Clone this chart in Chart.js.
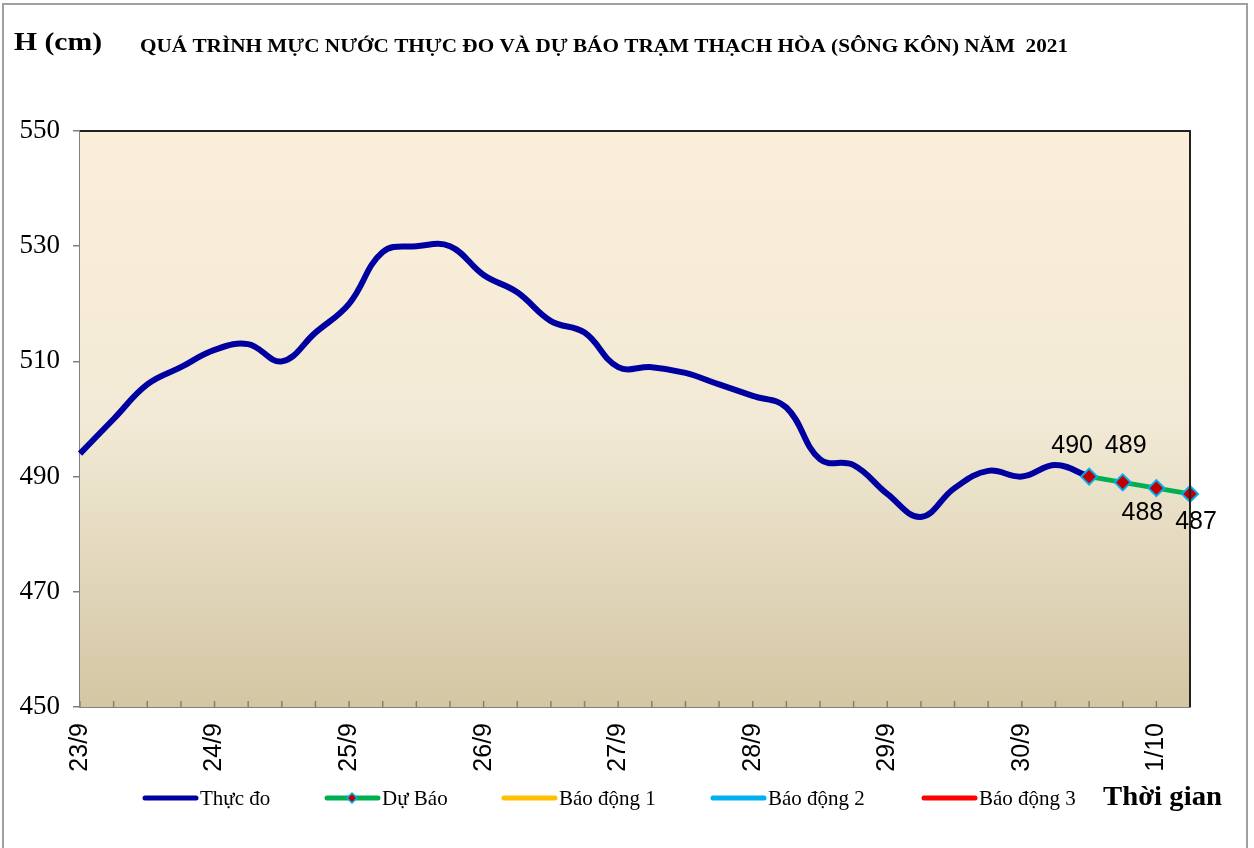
<!DOCTYPE html>
<html>
<head>
<meta charset="utf-8">
<script src="https://cdn.jsdelivr.net/npm/chart.js@4/dist/chart.umd.min.js"></script>
<style>
	html, body { margin: 0; padding: 0; background: #fff; }
	#wrap { width: 1254px; height: 848px; }
</style>
</head>
<body>
<div id="wrap"><canvas id="chart" width="1254" height="848"></canvas></div>
<script>
// days on the axis, 4 readings (6 h) per day, last day only 2
const days = ['23/9', '24/9', '25/9', '26/9', '27/9', '28/9', '29/9', '30/9', '1/10']
const slotsPerDay = [4, 4, 4, 4, 4, 4, 4, 4, 2]

// observed water level (cm)
const thucDo = [
	494, 500, 506, 509, 512, 513, 510, 515, 520, 529, 530, 530, 525, 522, 517, 515,
	509, 509, 508, 506, 504, 502, 493, 492, 487, 483, 488, 491, 490, 492, 490,
]
// forecast starts at the last observed slot
const duBaoStart = 30
const duBao = [490, 489, 488, 487]

const yTicks = { min: 450, max: 550, step: 20 }

const xLabels = []
days.forEach((d, i) => {
	for (let k = 0; k < slotsPerDay[i]; k++) xLabels.push(k === 0 ? d : '')
})
const duBaoData = xLabels.map((_, i) =>
	i >= duBaoStart && i < duBaoStart + duBao.length ? duBao[i - duBaoStart] : null
)

const SERIF = "'Liberation Serif', 'Times New Roman', serif"
const SANS = "'Liberation Sans', Arial, sans-serif"

// background, frame, titles, inner ticks
const decor = {
	id: 'decor',
	beforeDatasetsDraw(chart) {
		const { ctx, chartArea: a } = chart
		ctx.save()
		const g = ctx.createLinearGradient(0, a.top, 0, a.bottom)
		g.addColorStop(0, '#FCEFDA')
		g.addColorStop(0.5, '#F2EAD6')
		g.addColorStop(1, '#D3C6A3')
		ctx.fillStyle = g
		ctx.fillRect(a.left, a.top, a.right - a.left, a.bottom - a.top)
		// x tick marks pointing inward
		const x = chart.scales.x
		ctx.strokeStyle = '#808080'
		ctx.lineWidth = 1.5
		xLabels.forEach((_, i) => {
			const px = x.getPixelForValue(i)
			ctx.beginPath()
			ctx.moveTo(px, a.bottom)
			ctx.lineTo(px, a.bottom - 6)
			ctx.stroke()
		})
		ctx.restore()
	},
	afterDraw(chart) {
		const { ctx, chartArea: a } = chart
		ctx.save()
		// plot border top/right
		ctx.strokeStyle = '#222'
		ctx.lineWidth = 2
		ctx.beginPath()
		ctx.moveTo(a.left, a.top)
		ctx.lineTo(a.right, a.top)
		ctx.lineTo(a.right, a.bottom)
		ctx.stroke()
		// outer frame
		ctx.strokeStyle = '#A0A0A0'
		ctx.lineWidth = 2
		ctx.strokeRect(3, 4, 1244, 860)

		ctx.fillStyle = '#000'
		ctx.textBaseline = 'alphabetic'
		fitText(ctx, 'H (cm)', 'bold 25px ' + SERIF, 14, 50, 88)
		fitText(ctx, 'QUÁ TRÌNH MỰC NƯỚC THỰC ĐO VÀ DỰ BÁO TRẠM THẠCH HÒA (SÔNG KÔN) NĂM  2021',
			'bold 18px ' + SERIF, 140, 52, 928)
		fitText(ctx, 'Thời gian', 'bold 27px ' + SERIF, 1103, 805, 119)

		// legend
		const legX = [143, 325, 502, 711, 922]
		const ly = 798
		ctx.font = '21px ' + SERIF
		chart.data.datasets.forEach((ds, i) => {
			const x0 = legX[i]
			ctx.strokeStyle = ds.borderColor
			ctx.lineWidth = 5
			ctx.lineCap = 'round'
			ctx.beginPath()
			ctx.moveTo(x0 + 2, ly)
			ctx.lineTo(x0 + 53, ly)
			ctx.stroke()
			if (ds.pointRadius > 0) {
				const cx = x0 + 27
				ctx.beginPath()
				ctx.moveTo(cx, ly - 5)
				ctx.lineTo(cx + 5, ly)
				ctx.lineTo(cx, ly + 5)
				ctx.lineTo(cx - 5, ly)
				ctx.closePath()
				ctx.fillStyle = ds.pointBackgroundColor
				ctx.fill()
				ctx.strokeStyle = ds.pointBorderColor
				ctx.lineWidth = 1.5
				ctx.stroke()
			}
			ctx.fillStyle = '#000'
			ctx.fillText(ds.label, x0 + 57, ly + 7)
		})
		ctx.restore()
	},
	afterDatasetsDraw(chart) {
		// value labels on forecast points
		const { ctx } = chart
		const idx = chart.data.datasets.findIndex((d) => d.label === 'Dự Báo')
		const meta = chart.getDatasetMeta(idx)
		const off = [[-17, -30], [3, -36], [-14, 25], [6, 28]]
		ctx.save()
		ctx.font = '25px ' + SANS
		ctx.fillStyle = '#000'
		ctx.textAlign = 'center'
		ctx.textBaseline = 'middle'
		let n = 0
		meta.data.forEach((p, i) => {
			const v = chart.data.datasets[idx].data[i]
			if (v == null) return
			const o = off[n++] || [0, -30]
			ctx.fillText(String(v), p.x + o[0], p.y + o[1])
		})
		ctx.restore()
	},
}

function fitText(ctx, text, font, x, y, width) {
	ctx.font = font
	const w = ctx.measureText(text).width
	ctx.save()
	ctx.translate(x, y)
	ctx.scale(width / w, 1)
	ctx.fillText(text, 0, 0)
	ctx.restore()
}

new Chart(document.getElementById('chart'), {
	type: 'line',
	data: {
		labels: xLabels,
		datasets: [
			{
				label: 'Thực đo',
				data: thucDo,
				borderColor: '#0000A0',
				borderWidth: 6,
				pointRadius: 0,
				tension: 0.4,
				order: 2,
			},
			{
				label: 'Dự Báo',
				data: duBaoData,
				borderColor: '#00B050',
				borderWidth: 5,
				pointStyle: 'rectRot',
				pointRadius: 8,
				pointBackgroundColor: '#C00000',
				pointBorderColor: '#00B0F0',
				pointBorderWidth: 2,
				tension: 0,
				order: 1,
			},
			{ label: 'Báo động 1', data: [], borderColor: '#FFC000', pointRadius: 0, order: 3 },
			{ label: 'Báo động 2', data: [], borderColor: '#00B0F0', pointRadius: 0, order: 3 },
			{ label: 'Báo động 3', data: [], borderColor: '#FF0000', pointRadius: 0, order: 3 },
		],
	},
	options: {
		responsive: false,
		animation: false,
		devicePixelRatio: 1,
		layout: { padding: { left: 10, top: 131, right: 64, bottom: 41 } },
		plugins: {
			legend: { display: false },
			title: { display: false },
			tooltip: { enabled: false },
		},
		scales: {
			x: {
				type: 'category',
				offset: false,
				afterFit: (s) => { s.height = 100 },
				grid: { display: true, drawOnChartArea: false, drawTicks: false, offset: false },
				border: { display: true, color: '#808080', width: 2 },
				ticks: {
					autoSkip: false,
					maxRotation: 90,
					minRotation: 90,
					padding: 16,
					color: '#000',
					font: { family: SANS, size: 25 },
				},
			},
			y: {
				min: yTicks.min,
				max: yTicks.max,
				afterFit: (s) => { s.width = 70 },
				grid: { display: true, drawOnChartArea: false, drawTicks: true, tickLength: 7, color: '#808080', lineWidth: 1.5 },
				border: { display: true, color: '#808080', width: 2 },
				ticks: {
					stepSize: yTicks.step,
					padding: 13,
					color: '#000',
					font: { family: SERIF, size: 27 },
				},
			},
		},
	},
	plugins: [decor],
})
</script>
</body>
</html>
